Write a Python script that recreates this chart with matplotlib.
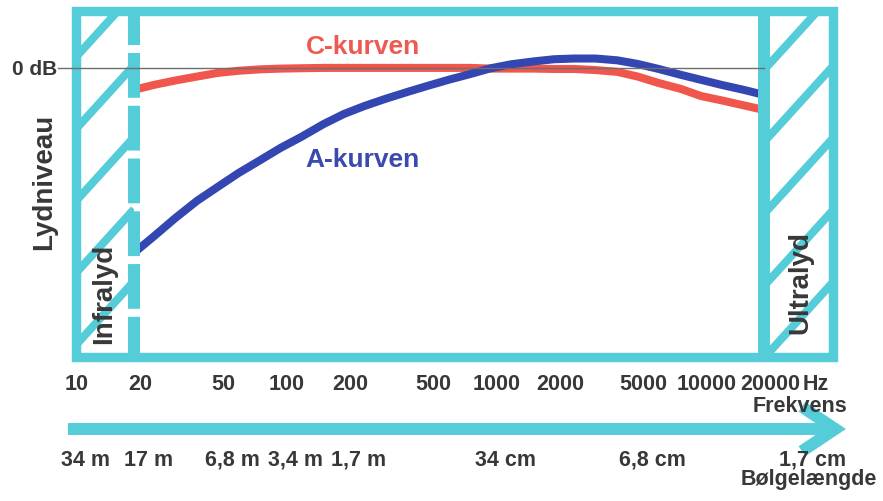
import numpy as np
import matplotlib
matplotlib.use('Agg')
import matplotlib.pyplot as plt
from matplotlib.patches import Rectangle, FancyArrowPatch, ArrowStyle
from matplotlib import transforms as mtransforms
from matplotlib.ticker import NullLocator

# ---------------- data ----------------
freq_hz = [20, 25, 31.5, 40, 50, 63, 80, 100, 125, 160, 200, 250, 315, 400, 500,
           630, 800, 1000, 1250, 1600, 2000, 2500, 3150, 4000, 5000, 6300, 8000,
           10000, 12500, 16000, 20000]
a_curve_db = [-51.4, -46.7, -41.7, -36.9, -33.1, -29.2, -25.6, -22.2, -19.2, -15.6,
              -12.8, -10.6, -8.6, -6.7, -5.0, -3.3, -1.7, -0.1, 1.0, 1.8, 2.4, 2.6,
              2.6, 2.1, 1.1, -0.3, -1.9, -3.3, -4.7, -6.1, -7.5]
c_curve_db = [-6.1, -4.7, -3.5, -2.4, -1.4, -0.8, -0.4, -0.2, -0.1, 0.0, 0.0, 0.0,
              0.0, 0.0, 0.0, 0.0, 0.0, -0.2, -0.2, -0.2, -0.3, -0.3, -0.6, -1.1,
              -2.4, -4.2, -5.8, -7.8, -9.0, -10.4, -11.7]

freq_ticks = [10, 20, 50, 100, 200, 500, 1000, 2000, 5000, 10000, 20000]
freq_labels = ['10', '20', '50', '100', '200', '500', '1000', '2000', '5000', '10000', '20000']
wave_freqs = [10, 20, 50, 100, 200, 1000, 5000, 20000]
wave_labels = ['34 m', '17 m', '6,8 m', '3,4 m', '1,7 m', '34 cm', '6,8 cm', '1,7 cm']

audible_low, audible_high = 20, 20000

# ---------------- style ----------------
TEAL = '#55cdd8'
RED = '#f0564c'
BLUE = '#3446b2'
TXT = '#383838'
FONT = ['Liberation Sans', 'DejaVu Sans']
plt.rcParams['font.family'] = FONT

W, H = 883, 501
fig = plt.figure(figsize=(W / 100, H / 100), dpi=100)

# overlay in pixel units for decorations and free text
ov = fig.add_axes([0, 0, 1, 1], zorder=0)
ov.set_xlim(0, W)
ov.set_ylim(H, 0)
ov.axis('off')

L, R, T, B = 76, 833, 11, 357
ax = fig.add_axes([L / W, 1 - B / H, (R - L) / W, (B - T) / H], zorder=1)
ax.set_facecolor('none')
ax.set_xscale('log')
ax.set_xlim(10.6, 42600)
ax.set_ylim(-80.3, 15.8)
for s in ax.spines.values():
    s.set_visible(False)
ax.xaxis.set_major_locator(NullLocator())
ax.xaxis.set_minor_locator(NullLocator())
ax.set_yticks([0])
ax.set_yticklabels(['0 dB'])
ax.tick_params(axis='y', length=0, pad=13.5, labelsize=15, labelcolor=TXT)
for lab in ax.get_yticklabels():
    lab.set_fontweight('bold')

# frame
ax.add_patch(Rectangle((0, 0), 1, 1, transform=ax.transAxes, fill=False, ec=TEAL,
                       lw=6.8, joinstyle='miter', clip_on=False, zorder=4))
# audible range boundaries
ax.plot([audible_low, audible_low], [15.8, -80.3], color=TEAL, lw=8.6,
        ls=(0.9, (3.75, 0.667)), dash_capstyle='butt', zorder=4, clip_on=False)
ax.axvline(audible_high, color=TEAL, lw=8.6, zorder=4)

# 0 dB reference line
xl = np.log10(ax.get_xlim())
frac_hi = (np.log10(audible_high) - xl[0]) / (xl[1] - xl[0])
ax.axhline(0, xmin=-0.024, xmax=frac_hi, color='#6e6e6e', lw=1.0, zorder=5, clip_on=False)

# curves
ax.plot(freq_hz, c_curve_db, color=RED, lw=5.8, solid_capstyle='butt',
        solid_joinstyle='round', zorder=2)
ax.plot(freq_hz, a_curve_db, color=BLUE, lw=5.8, solid_capstyle='butt',
        solid_joinstyle='round', zorder=3)

# hatch lines in infra/ultra zones
def hatch(x0, x1, start, step=72, slope=1.1):
    clip = Rectangle((x0, T), x1 - x0, B - T, transform=ov.transData)
    for y0 in np.arange(start - step, B + step * 2, step):
        ln, = ov.plot([x0, x1], [y0, y0 - slope * (x1 - x0)], color=TEAL, lw=5.8,
                      solid_capstyle='butt')
        ln.set_clip_path(clip)

hatch(L, 134, 57)
hatch(764, R, 70)

# labels
bold = dict(fontweight='bold', color=TXT)
ov.text(44, 182, 'Lydniveau', rotation=90, ha='center', va='center', fontsize=20, **bold)
ov.text(104, 294, 'Infralyd', rotation=90, ha='center', va='center', fontsize=20, **bold, zorder=5)
ov.text(800, 283, 'Ultralyd', rotation=90, ha='center', va='center', fontsize=20, **bold, zorder=5)
ov.text(363, 47, 'C-kurven', ha='center', va='center', fontsize=19, fontweight='bold', color='#ec5a52')
ov.text(362, 160, 'A-kurven', ha='center', va='center', fontsize=19, fontweight='bold', color='#3a4aae')

blend = mtransforms.blended_transform_factory(ax.transData, ov.transData)
shift6 = mtransforms.ScaledTranslation(6 / 100, 0, fig.dpi_scale_trans)
for f, lab in zip(freq_ticks, freq_labels):
    ov.text(f, 385, lab, transform=blend + shift6, ha='center', va='center',
            fontsize=15.5, **bold)
ov.text(803, 385, 'Hz', ha='left', va='center', fontsize=15.5, **bold)
ov.text(847, 406, 'Frekvens', ha='right', va='center', fontsize=15.5, **bold)

arrow = FancyArrowPatch((68, 429), (846, 429),
                        arrowstyle=ArrowStyle('->', head_length=24, head_width=16),
                        mutation_scale=1, lw=8.6, color=TEAL, shrinkA=0, shrinkB=0,
                        capstyle='butt', joinstyle='miter')
ov.add_patch(arrow)

shift15 = mtransforms.ScaledTranslation(15 / 100, 0, fig.dpi_scale_trans)
for f, lab in zip(wave_freqs[:-1], wave_labels[:-1]):
    ov.text(f, 460, lab, transform=blend + shift15, ha='center', va='center',
            fontsize=15.5, **bold)
ov.text(846, 460, wave_labels[-1], ha='right', va='center', fontsize=15.5, **bold)
ov.text(877, 479, 'Bølgelængde', ha='right', va='center', fontsize=15.5, **bold)

fig.savefig('out.png', dpi=100, facecolor='white')
